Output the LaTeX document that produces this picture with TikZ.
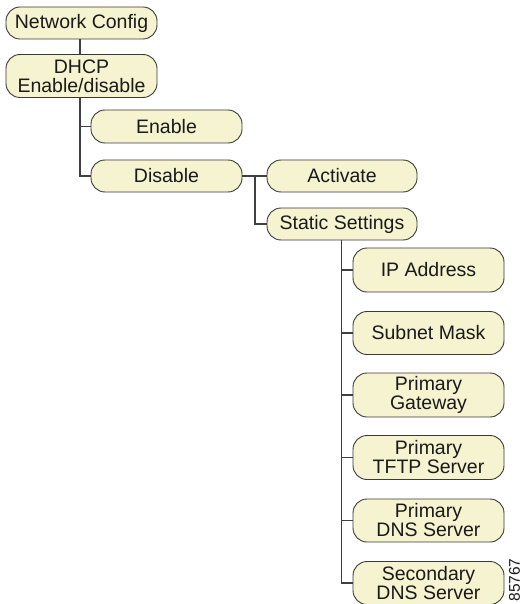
\documentclass[tikz,border=0pt]{standalone}
\usepackage{fontspec}
\setmainfont{Liberation Sans}
\definecolor{boxfill}{HTML}{F6F3D0}
\definecolor{boxline}{HTML}{3A3A3A}
\definecolor{conn}{HTML}{404040}
\definecolor{txt}{HTML}{1A1A1A}
\begin{document}
\begin{tikzpicture}[x=1pt,y=-1pt,
  menubox/.style={draw=boxline, fill=boxfill, line width=0.9pt, rounded corners=14pt,
    minimum width=151pt, inner sep=0pt, align=center, text=txt,
    font=\fontsize{19.5}{19}\selectfont},
  onebox/.style={menubox, minimum height=32pt},
  twobox/.style={menubox, minimum height=43pt},
  link/.style={draw=conn, line width=1.1pt}]
\useasboundingbox (0,0) rectangle (523,604);
\node[onebox] (nc) at (81.5,23) {Network Config};
\node[twobox] (dhcp) at (81.5,76) {DHCP\\Enable/disable};
\node[onebox, minimum height=33pt] (en) at (166.5,126.5) {Enable};
\node[onebox] (dis) at (166.5,176) {Disable};
\node[onebox, minimum width=150pt] (act) at (342,176) {Activate};
\node[onebox, minimum width=150pt] (st) at (342,224) {Static Settings};
\node[twobox, minimum height=44pt] (ip) at (428.5,270) {IP Address};
\node[twobox] (sm) at (428.5,333) {Subnet Mask};
\node[twobox, minimum height=44pt] (pg) at (428.5,395) {Primary\\Gateway};
\node[twobox, minimum height=44pt] (tftp) at (428.5,457.5) {Primary\\TFTP Server};
\node[twobox] (pdns) at (428.5,520.5) {Primary\\DNS Server};
\node[twobox] (sdns) at (428.5,583) {Secondary\\DNS Server};
\node[text=txt, rotate=90, font=\fontsize{15.5}{15}\selectfont, inner sep=0pt] (num) at (514.5,580) {85767};
% connectors
\coordinate (j1) at (80,0);
\draw[link] (nc.south -| j1) -- (dhcp.north -| j1);
\draw[link] (dhcp.south -| j1) |- (dis.west);
\draw[link] (en.west) -- (en.west -| j1);
\coordinate (j2) at (255,0);
\draw[link] (dis.east) -- (act.west);
\draw[link] (dis.east -| j2) |- (st.west);
\coordinate (j3) at (341.5,0);
\draw[link] (st.south -| j3) |- (sdns.west);
\foreach \n in {ip,sm,pg,tftp,pdns}
  \draw[link] (\n.west) -- (\n.west -| j3);
\end{tikzpicture}
\end{document}
